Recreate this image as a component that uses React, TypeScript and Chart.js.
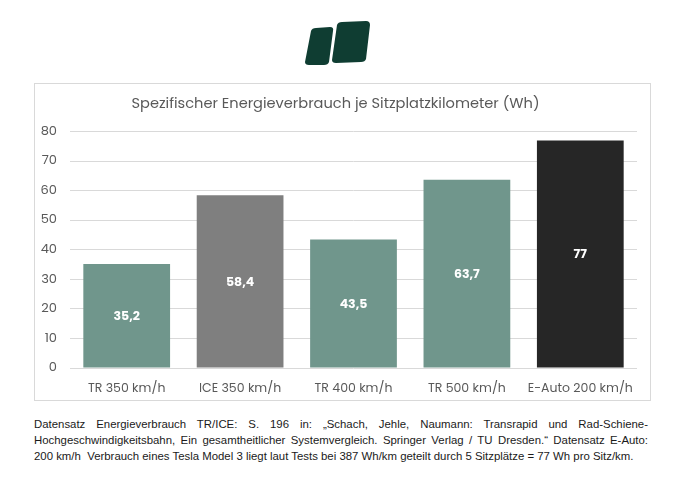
import React, { useEffect, useRef } from "react";
import { Chart, registerables } from "chart.js";

Chart.register(...registerables);

const categories = ["TR 350 km/h", "ICE 350 km/h", "TR 400 km/h", "TR 500 km/h", "E-Auto 200 km/h"];
const values = [35.2, 58.4, 43.5, 63.7, 77];
const barColors = ["#70968c", "#7f7f7f", "#70968c", "#70968c", "#262626"];
const valueLabels = ["35,2", "58,4", "43,5", "63,7", "77"];
const yTicks = [0, 10, 20, 30, 40, 50, 60, 70, 80];
const chartTitle = "Spezifischer Energieverbrauch je Sitzplatzkilometer (Wh)";
const captionLines = [
  "Datensatz Energieverbrauch TR/ICE: S. 196 in: \u201eSchach, Jehle, Naumann: Transrapid und Rad-Schiene-",
  "Hochgeschwindigkeitsbahn, Ein gesamtheitlicher Systemvergleich. Springer Verlag / TU Dresden.\u201c Datensatz E-Auto:",
  "200 km/h\u00a0 Verbrauch eines Tesla Model 3 liegt laut Tests bei 387 Wh/km geteilt durch 5 Sitzpl\u00e4tze = 77 Wh pro Sitz/km.",
];

const FONT = "Poppins, 'Open Sans', sans-serif";

const valueLabelPlugin = {
  id: "valueLabels",
  afterDatasetsDraw(chart: any) {
    const ctx = chart.ctx;
    const meta = chart.getDatasetMeta(0);
    ctx.save();
    ctx.fillStyle = "#ffffff";
    ctx.font = `bold 12.5px ${FONT}`;
    ctx.textAlign = "center";
    ctx.textBaseline = "middle";
    meta.data.forEach((bar: any, i: number) => {
      const y = (bar.y + bar.base) / 2;
      ctx.fillText(valueLabels[i], bar.x, y + 1);
    });
    ctx.restore();
  },
};

function BarChart() {
  const ref = useRef<HTMLCanvasElement | null>(null);
  useEffect(() => {
    if (!ref.current) return;
    const chart = new Chart(ref.current, {
      type: "bar",
      data: {
        labels: categories,
        datasets: [
          {
            data: values,
            backgroundColor: barColors,
            categoryPercentage: 0.765,
            barPercentage: 1,
          },
        ],
      },
      plugins: [valueLabelPlugin],
      options: {
        animation: false,
        responsive: true,
        maintainAspectRatio: false,
        layout: { padding: { left: 0, right: 14, top: 1, bottom: 0 } },
        plugins: {
          legend: { display: false },
          tooltip: { enabled: false },
          title: {
            display: true,
            text: chartTitle,
            color: "#595959",
            font: { family: FONT, size: 14.6, weight: "normal", lineHeight: 1.2 },
            padding: { top: 12, bottom: 18 },
          },
        },
        scales: {
          x: {
            grid: { display: false },
            border: { display: false },
            ticks: {
              color: "#595959",
              font: { family: FONT, size: 12.5 },
              padding: 5,
              maxRotation: 0,
            },
            afterFit(scale: any) {
              scale.height = 33;
            },
          },
          y: {
            min: 0,
            max: 80,
            afterBuildTicks(scale: any) {
              scale.ticks = yTicks.map((v) => ({ value: v }));
            },
            grid: { color: "#d9d9d9", drawTicks: false, lineWidth: 1 },
            border: { display: false },
            ticks: {
              color: "#595959",
              font: { family: FONT, size: 13 },
              padding: 13,
            },
            afterFit(scale: any) {
              scale.width = 36;
            },
          },
        },
      },
    });
    return () => chart.destroy();
  }, []);
  return <canvas ref={ref} />;
}

export default function App() {
  return (
    <div style={{ position: "absolute", left: 0, top: 0, width: 680, height: 481, background: "#ffffff" }}>
      <svg style={{ position: "absolute", left: 296, top: 18 }} width={80} height={52} viewBox="0 0 80 52">
        <path
          d="M15 13 Q16 10 20 10 L34 9 Q38 9 37 13 L33 44 Q32 47 28 47 L13 47 Q9 47 9 44 Z"
          fill="#0f3d32"
        />
        <path
          d="M41 7 Q42 4 46 4 L70 3 Q74 3 74 7 L70 41 Q69 44 65 44 L40 45 Q36 45 36 42 Z"
          fill="#0f3d32"
        />
      </svg>
      <div
        style={{
          position: "absolute",
          left: 34,
          top: 83,
          width: 617,
          height: 318,
          boxSizing: "border-box",
          border: "1px solid #d9d9d9",
        }}
      />
      <div style={{ position: "absolute", left: 34, top: 83, width: 617, height: 318 }}>
        <BarChart />
      </div>
      <div
        style={{
          position: "absolute",
          left: 34,
          top: 416,
          width: 614,
          fontFamily: "'Liberation Sans Narrow', 'Liberation Sans', Arial, sans-serif",
          fontSize: 11.4,
          lineHeight: "16px",
          color: "#1a1a1a",
        }}
      >
        {captionLines.map((line, i) => (
          <div
            key={i}
            style={{
              textAlign: i < 2 ? "justify" : "left",
              textAlignLast: i < 2 ? "justify" : "left",
              whiteSpace: i < 2 ? "normal" : "nowrap",
            }}
          >
            {line}
          </div>
        ))}
      </div>
    </div>
  );
}
